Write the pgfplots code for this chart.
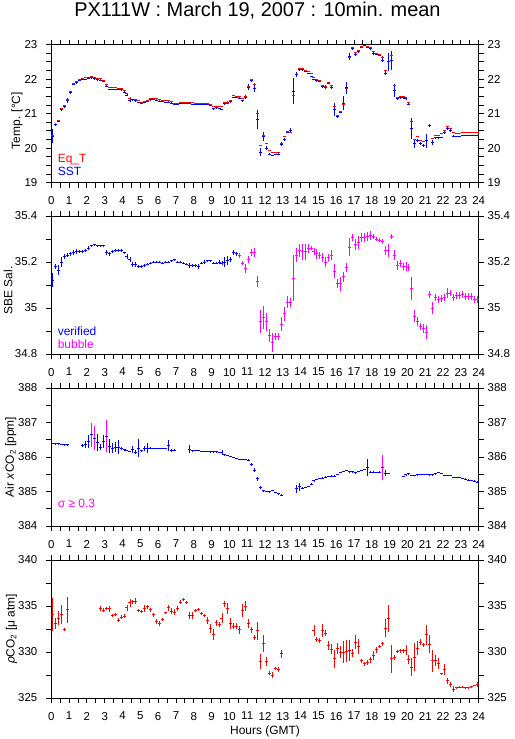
\documentclass[border=0pt]{standalone}
\usepackage{fontspec}
\setmainfont{Liberation Sans}
\usepackage{pgfplots}
\usepackage{pgfplotstable}
\pgfplotsset{compat=1.18}
\definecolor{mag}{RGB}{255,0,255}
\definecolor{pblue}{RGB}{0,0,255}
\definecolor{pred}{RGB}{255,0,0}

\pgfplotstableread{
x sst esst eq eeq
0.083 20.35 0.20 20.36 0.02
0.25 20.68 0.03 20.70 0.02
0.417 20.78 0.03 20.80 0.02
0.583 21.12 0.03 21.15 0.02
0.75 21.20 0.03 21.23 0.02
0.917 21.38 0.08 21.40 0.02
1.083 21.62 0.05 21.64 0.02
1.25 21.85 0.03 21.87 0.02
1.417 21.90 0.03 21.93 0.02
1.583 21.96 0.02 22.00 0.02
1.75 21.99 0.02 22.02 0.01
1.917 22.00 0.02 22.04 0.01
2.083 22.02 0.02 22.06 0.01
2.25 22.04 0.02 22.08 0.01
2.417 22.01 0.02 22.05 0.01
2.583 21.98 0.02 22.03 0.01
2.75 21.97 0.02 22.01 0.01
2.917 21.93 0.02 21.97 0.01
3.083 21.79 0.03 21.85 0.02
3.25 21.71 0.02 21.75 0.01
3.417 21.70 0.01 21.75 0.01
3.583 21.70 0.01 21.75 0.01
3.75 21.70 0.01 21.74 0.01
3.917 21.69 0.01 21.73 0.01
4.083 21.61 0.02 21.66 0.01
4.25 21.53 0.03 21.59 0.02
4.417 21.39 0.04 21.45 0.02
4.583 21.40 0.02 21.41 0.01
4.75 21.37 0.02 21.40 0.01
4.917 21.33 0.02 21.38 0.01
5.083 21.30 0.02 21.34 0.01
5.25 21.32 0.02 21.35 0.01
5.417 21.36 0.02 21.39 0.01
5.583 21.40 0.02 21.43 0.01
5.75 21.41 0.02 21.45 0.01
5.917 21.39 0.02 21.43 0.01
6.083 21.36 0.02 21.40 0.01
6.25 21.35 0.01 21.38 0.01
6.417 21.34 0.01 21.38 0.01
6.583 21.34 0.01 21.37 0.01
6.75 21.31 0.02 21.35 0.01
6.917 21.26 0.02 21.31 0.01
7.083 21.27 0.02 21.31 0.01
7.25 21.29 0.02 21.33 0.01
7.417 21.30 0.01 21.33 0.01
7.583 21.31 0.01 21.34 0.01
7.75 21.29 0.01 21.33 0.01
7.917 21.28 0.01 21.32 0.01
8.083 21.27 0.01 21.31 0.01
8.25 21.26 0.01 21.30 0.01
8.417 21.26 0.01 21.30 0.01
8.583 21.26 0.01 21.30 0.01
8.75 21.26 0.01 21.30 0.01
8.917 21.23 0.02 21.28 0.01
9.083 21.14 0.03 21.21 0.01
9.25 21.17 0.02 21.22 0.01
9.417 21.15 0.02 21.20 0.01
9.583 21.13 0.01 21.20 0.01
9.75 21.29 0.04 21.32 0.02
9.917 21.31 0.04 21.34 0.02
10.083 21.36 0.04 21.39 0.02
10.25 21.47 0.02 21.52 0.01
10.417 21.47 0.02 21.51 0.01
10.583 21.45 0.02 21.50 0.01
10.75 21.38 0.03 21.45 0.01
10.917 21.48 0.05 21.50 0.02
11.083 21.77 0.08 21.80 0.03
11.25 21.96 0.03 21.99 0.02
11.417 21.72 0.10 21.86 0.04
11.583 20.83 0.28 21.00 0.10
11.75 19.89 0.12 20.08 0.02
11.917 20.35 0.13 20.36 0.02
12.083 20.00 0.06 20.13 0.02
12.25 19.83 0.02 19.93 0.01
12.417 19.79 0.02 19.88 0.01
12.583 19.82 0.02 19.89 0.01
12.75 19.83 0.03 19.89 0.01
12.917 20.12 0.06 20.15 0.02
13.083 20.25 0.05 20.33 0.02
13.25 20.47 0.02 20.48 0.01
13.417 20.52 0.06 20.47 0.02
13.583 21.65 0.38 21.52 0.10
13.75 22.13 0.08 22.15 0.03
13.917 22.27 0.03 22.30 0.01
14.083 22.27 0.02 22.32 0.01
14.25 22.22 0.02 22.26 0.01
14.417 22.17 0.02 22.22 0.01
14.583 22.08 0.02 22.17 0.01
14.75 22.00 0.02 22.05 0.01
14.917 21.95 0.02 22.00 0.01
15.083 21.93 0.02 21.97 0.01
15.25 21.78 0.04 21.82 0.02
15.417 21.75 0.04 21.80 0.02
15.583 21.87 0.02 21.90 0.01
15.75 21.77 0.05 21.82 0.02
15.917 21.12 0.20 21.20 0.05
16.083 20.92 0.04 20.94 0.02
16.25 21.05 0.04 21.07 0.02
16.417 21.30 0.20 21.28 0.05
16.583 21.75 0.18 21.74 0.05
16.75 22.67 0.10 22.63 0.03
16.917 22.88 0.04 22.92 0.02
17.083 22.73 0.06 22.77 0.02
17.25 22.80 0.05 22.82 0.02
17.417 22.93 0.03 22.95 0.01
17.583 22.97 0.02 22.98 0.01
17.75 22.93 0.03 22.95 0.01
17.917 22.88 0.02 22.92 0.01
18.083 22.75 0.04 22.80 0.02
18.25 22.72 0.02 22.76 0.01
18.417 22.69 0.02 22.72 0.01
18.583 22.55 0.06 22.64 0.02
18.75 22.17 0.06 22.24 0.02
18.917 22.50 0.25 22.50 0.06
19.083 22.55 0.27 22.70 0.06
19.25 21.67 0.20 21.82 0.05
19.417 21.44 0.03 21.48 0.01
19.583 21.46 0.03 21.50 0.01
19.75 21.46 0.03 21.50 0.01
19.917 21.43 0.04 21.48 0.01
20.083 21.27 0.03 21.32 0.01
20.25 20.57 0.30 20.77 0.10
20.417 20.13 0.13 20.25 0.03
20.583 20.23 0.05 20.33 0.02
20.75 20.14 0.05 20.22 0.02
20.917 20.08 0.04 20.20 0.02
21.083 20.22 0.20 20.23 0.05
21.25 20.65 0.05 20.67 0.02
21.417 20.16 0.08 20.28 0.02
21.583 20.30 0.03 20.38 0.01
21.75 20.30 0.02 20.38 0.01
21.917 20.31 0.02 20.42 0.01
22.083 20.47 0.05 20.50 0.02
22.25 20.57 0.04 20.62 0.01
22.417 20.52 0.04 20.57 0.01
22.583 20.35 0.02 20.46 0.01
22.75 20.34 0.01 20.43 0.01
22.917 20.34 0.01 20.43 0.01
23.083 20.36 0.01 20.45 0.01
23.25 20.36 0.01 20.45 0.01
23.417 20.37 0.01 20.45 0.01
23.583 20.37 0.01 20.45 0.01
23.75 20.37 0.01 20.45 0.01
23.917 20.37 0.01 20.45 0.01
}\tempdata

\pgfplotstableread{
x s e
0.083 35.12 0.03
0.25 35.18 0.01
0.417 35.165 0.02
0.583 35.20 0.02
0.75 35.225 0.01
0.917 35.23 0.01
1.083 35.235 0.01
1.25 35.24 0.01
1.417 35.245 0.01
1.583 35.245 0.005
1.75 35.245 0.005
1.917 35.25 0.005
2.083 35.26 0.01
2.25 35.27 0.005
2.417 35.275 0.005
2.583 35.27 0.005
2.75 35.27 0.005
2.917 35.27 0.005
3.083 35.24 0.01
3.25 35.235 0.01
3.417 35.245 0.005
3.583 35.25 0.005
3.75 35.25 0.005
3.917 35.25 0.005
4.083 35.24 0.005
4.25 35.225 0.01
4.417 35.21 0.01
4.583 35.19 0.01
4.75 35.19 0.01
4.917 35.18 0.005
5.083 35.18 0.005
5.25 35.185 0.005
5.417 35.19 0.005
5.583 35.195 0.005
5.75 35.20 0.005
5.917 35.20 0.005
6.083 35.20 0.005
6.25 35.195 0.005
6.417 35.20 0.005
6.583 35.20 0.005
6.75 35.205 0.005
6.917 35.21 0.005
7.083 35.20 0.005
7.25 35.20 0.005
7.417 35.195 0.005
7.583 35.19 0.005
7.75 35.185 0.01
7.917 35.185 0.005
8.083 35.185 0.005
8.25 35.18 0.01
8.417 35.195 0.005
8.583 35.20 0.01
8.75 35.205 0.005
8.917 35.205 0.005
9.083 35.195 0.005
9.25 35.195 0.005
9.417 35.20 0.01
9.583 35.195 0.01
9.75 35.20 0.02
9.917 35.205 0.02
10.083 35.21 0.01
10.25 35.24 0.01
10.417 35.235 0.01
}\salver

\pgfplotstableread{
x s e
10.583 35.228 0.01
10.75 35.195 0.01
10.917 35.17 0.02
11.083 35.21 0.015
11.25 35.24 0.015
11.417 35.24 0.02
11.583 35.115 0.025
11.75 34.94 0.05
11.917 34.96 0.05
12.083 34.94 0.04
12.25 34.88 0.03
12.417 34.85 0.04
12.583 34.875 0.015
12.75 34.875 0.015
12.917 34.93 0.03
13.083 34.975 0.03
13.25 35.025 0.025
13.417 35.025 0.02
13.583 35.13 0.10
13.75 35.23 0.03
13.917 35.25 0.03
14.083 35.245 0.035
14.25 35.245 0.035
14.417 35.26 0.02
14.583 35.26 0.01
14.75 35.245 0.015
14.917 35.235 0.02
15.083 35.23 0.015
15.25 35.22 0.02
15.417 35.20 0.02
15.583 35.22 0.015
15.75 35.23 0.02
15.917 35.16 0.03
16.083 35.105 0.02
16.25 35.105 0.03
16.417 35.135 0.02
16.583 35.175 0.02
16.75 35.265 0.04
16.917 35.305 0.015
17.083 35.275 0.025
17.25 35.285 0.03
17.417 35.305 0.02
17.583 35.305 0.02
17.75 35.31 0.02
17.917 35.315 0.02
18.083 35.31 0.01
18.25 35.30 0.01
18.417 35.295 0.01
18.583 35.29 0.01
18.75 35.25 0.02
18.917 35.25 0.03
19.083 35.31 0.01
19.25 35.23 0.02
19.417 35.185 0.02
19.583 35.195 0.015
19.75 35.18 0.015
19.917 35.18 0.02
20.083 35.175 0.015
20.25 35.085 0.05
20.417 34.965 0.025
20.583 34.94 0.02
20.75 34.92 0.015
20.917 34.91 0.02
21.083 34.895 0.03
21.25 35.06 0.015
21.417 35.00 0.025
21.583 35.045 0.015
21.75 35.035 0.015
21.917 35.04 0.015
22.083 35.045 0.015
22.25 35.065 0.02
22.417 35.065 0.015
22.583 35.045 0.015
22.75 35.055 0.015
22.917 35.055 0.015
23.083 35.06 0.015
23.25 35.05 0.015
23.417 35.05 0.015
23.583 35.05 0.015
23.75 35.035 0.015
23.917 35.035 0.015
}\salbub

\pgfplotstableread{
x v e
0.083 386.40 0.02
0.25 386.38 0.02
0.417 386.38 0.02
0.583 386.37 0.02
0.75 386.35 0.02
0.917 386.35 0.02
1.75 386.33 0.05
1.917 386.36 0.10
2.083 386.45 0.20
2.583 386.43 0.25
2.75 386.29 0.08
2.917 386.45 0.20
3.25 386.31 0.20
3.417 386.26 0.15
3.583 386.29 0.15
3.75 386.29 0.20
3.917 386.24 0.05
4.083 386.21 0.03
4.25 386.18 0.02
4.417 386.16 0.02
4.583 386.21 0.10
4.75 386.14 0.05
4.917 386.26 0.25
5.083 386.18 0.03
5.25 386.24 0.08
5.417 386.26 0.15
5.583 386.26 0.03
5.75 386.24 0.02
5.917 386.24 0.02
6.083 386.24 0.02
6.25 386.24 0.02
6.417 386.24 0.02
6.583 386.33 0.17
6.75 386.19 0.05
6.917 386.19 0.03
7.75 386.23 0.12
7.917 386.18 0.03
8.083 386.18 0.02
8.25 386.18 0.02
8.417 386.16 0.02
8.583 386.16 0.02
8.75 386.16 0.02
8.917 386.15 0.02
9.083 386.15 0.02
9.25 386.15 0.02
9.417 386.13 0.02
9.583 386.13 0.07
9.75 386.06 0.03
9.917 386.05 0.02
10.083 386.01 0.02
10.25 385.98 0.02
10.417 385.96 0.02
10.583 385.93 0.02
10.75 385.92 0.02
10.917 385.92 0.02
11.083 385.91 0.02
11.25 385.79 0.05
11.417 385.62 0.06
11.583 385.37 0.06
11.75 385.12 0.05
11.917 385.02 0.03
12.083 385.00 0.02
12.25 384.99 0.02
12.417 385.02 0.02
12.583 384.97 0.02
12.75 384.93 0.02
12.917 384.89 0.03
13.75 385.08 0.12
13.917 385.14 0.12
14.083 385.10 0.02
14.25 385.12 0.02
14.417 385.14 0.02
14.583 385.21 0.03
14.75 385.31 0.03
14.917 385.34 0.02
15.083 385.37 0.02
15.25 385.39 0.02
15.417 385.42 0.02
15.583 385.43 0.02
15.75 385.45 0.02
15.917 385.45 0.02
16.083 385.50 0.02
16.25 385.55 0.02
16.417 385.58 0.02
16.583 385.60 0.02
16.75 385.57 0.02
16.917 385.57 0.02
17.083 385.54 0.02
17.25 385.58 0.02
17.417 385.61 0.02
17.583 385.63 0.02
17.75 385.70 0.25
17.917 385.56 0.02
18.083 385.56 0.02
18.25 385.55 0.02
18.417 385.56 0.02
18.75 385.53 0.08
18.917 385.53 0.02
19.75 385.43 0.02
19.917 385.48 0.02
20.083 385.51 0.02
20.25 385.47 0.02
20.417 385.47 0.02
20.583 385.48 0.02
20.75 385.50 0.02
20.917 385.50 0.02
21.083 385.50 0.02
21.25 385.48 0.02
21.417 385.48 0.02
21.583 385.51 0.02
21.75 385.55 0.02
21.917 385.53 0.02
22.083 385.47 0.02
22.25 385.47 0.02
22.417 385.46 0.02
22.583 385.41 0.02
22.75 385.41 0.02
22.917 385.40 0.02
23.083 385.38 0.02
23.25 385.36 0.02
23.417 385.33 0.02
23.583 385.32 0.02
23.75 385.30 0.02
23.917 385.27 0.02
}\airok

\pgfplotstableread{
x v e
2.25 386.64 0.36
2.417 386.55 0.36
3.083 386.61 0.46
18.583 385.70 0.37
}\airbad

\pgfplotstableread{
x p e
0.083 334.07 1.8
0.25 333.05 0.6
0.417 333.70 0.8
0.583 334.07 1.0
0.75 332.43 0.2
0.917 334.60 1.4
2.75 334.72 0.25
2.917 334.54 0.2
3.083 334.72 0.2
3.25 334.68 0.3
3.417 333.96 0.15
3.583 334.07 0.2
3.75 333.48 0.2
3.917 333.78 0.2
4.083 333.88 0.2
4.25 334.80 0.3
4.417 335.34 0.4
4.583 335.45 0.2
4.75 335.52 0.3
4.917 334.50 0.15
5.083 334.43 0.15
5.25 334.72 0.4
5.417 334.90 0.2
5.583 334.60 0.2
5.75 334.03 0.2
5.917 333.34 0.3
6.083 333.08 0.3
6.25 333.52 0.2
6.417 334.25 0.15
6.583 334.80 0.3
6.75 334.43 0.3
6.917 334.32 0.3
7.083 334.72 0.3
7.25 335.41 0.2
7.417 335.70 0.15
7.583 335.34 0.15
7.75 334.00 0.4
7.917 334.00 0.4
8.083 334.50 0.15
8.25 334.60 0.15
8.417 334.17 0.15
8.583 333.96 0.15
8.75 333.45 0.4
8.917 332.54 0.5
9.083 331.95 0.6
9.25 333.16 0.3
9.417 332.97 0.3
9.583 333.70 0.5
9.75 335.23 0.3
9.917 334.70 0.6
10.083 333.10 0.6
10.25 332.80 0.3
10.417 332.80 0.3
10.583 332.40 0.4
10.75 334.50 0.7
10.917 335.00 0.5
11.083 333.10 0.5
11.25 332.40 0.3
11.417 331.60 0.3
11.583 332.30 1.0
11.75 329.00 0.8
11.917 330.90 0.9
12.083 329.00 0.5
12.25 327.70 0.2
12.417 327.50 0.3
12.583 328.20 0.2
12.75 328.10 0.3
12.917 329.80 0.4
14.75 332.32 0.6
14.917 331.34 0.3
15.083 331.23 0.3
15.25 332.32 0.7
15.417 332.06 0.3
15.583 330.68 0.5
15.75 330.32 0.5
15.917 329.26 1.0
16.083 330.43 0.6
16.25 330.00 0.6
16.417 330.00 1.2
16.583 330.06 1.2
16.75 330.17 1.1
16.917 329.88 0.4
17.083 331.08 0.8
17.25 330.57 0.8
17.417 329.04 0.2
17.583 328.71 0.2
17.75 328.86 0.3
17.917 329.15 0.3
18.083 329.59 0.5
18.25 330.24 0.3
18.417 330.61 0.2
18.583 330.90 0.2
18.75 332.61 1.0
18.917 333.63 1.5
19.083 329.26 1.5
19.25 329.41 0.3
19.417 330.06 0.2
19.583 330.13 0.2
19.75 330.13 0.2
19.917 330.21 0.5
20.083 329.15 0.5
20.25 328.35 1.0
20.417 329.44 1.5
20.583 330.43 0.8
20.75 331.08 0.3
20.917 330.79 0.2
21.083 331.88 1.1
21.25 330.86 1.0
21.417 329.04 1.2
21.583 329.04 0.6
21.75 328.79 0.6
21.917 327.62 0.1
22.083 328.13 0.6
22.25 326.86 0.3
22.417 326.49 0.3
22.583 325.95 0.3
22.75 326.13 0.1
22.917 326.17 0.1
23.083 326.17 0.1
23.25 326.13 0.1
23.417 326.13 0.1
23.583 326.24 0.1
23.75 326.35 0.1
23.917 326.49 0.3
}\pco

\pgfplotsset{
  panel/.style={scale only axis, width=427.4bp, height=138bp,
    xmin=0, xmax=24, xtick={0,1,...,24}, minor x tick num=1,
    tick align=outside, major tick length=5bp, minor tick length=5bp,
    axis line style={line width=0.9bp}, tick style={line width=0.9bp, black},
    tick label style={font=\fontsize{11.5}{12}\selectfont},
    yticklabel style={xshift=-5.5bp},
    xticklabel style={yshift=-5.5bp},
    scaled ticks=false, /pgf/number format/assume math mode=true,
    every axis y label/.style={at={(axis description cs:-0.08,0.5)}, rotate=90, anchor=center, font=\fontsize{12}{14}\selectfont},
    every axis x label/.style={at={(axis description cs:0.5,-0.239)}, anchor=center, font=\fontsize{12}{14}\selectfont},
  },
  rightlab/.style={scale only axis, width=427.4bp, height=138bp,
    xmin=0, xmax=24, xtick=\empty, yticklabel pos=right,
    axis line style={draw=none}, tick style={draw=none},
    tick label style={font=\fontsize{11.5}{12}\selectfont},
    yticklabel style={xshift=5.5bp},
    scaled ticks=false, /pgf/number format/assume math mode=true},
  hbar/.style={only marks, mark=-, mark size=1.5bp, mark options={line width=0.9bp, solid}},
  vbar/.style={quiver={u=0, v=2*\thisrow{#1}}, line width=0.9bp, -},
}

\begin{document}
\begin{tikzpicture}
\useasboundingbox (0,0) rectangle (515bp,739bp);
\node[anchor=base, font=\fontsize{20}{24}\selectfont] at (257.5bp,722bp) {PX111W : March 19, 2007 : 10min. mean};

% Panel 1
\begin{axis}[panel, at={(51.3bp,556.3bp)}, anchor=south west,
  ymin=19, ymax=23, ytick={19,20,21,22,23}, minor y tick num=3,
  ylabel={Temp. [°C]}, ylabel style={at={(axis description cs:-0.080,0.45)}}]
\addplot[pred, hbar] table[x=x, y=eq]{\tempdata};
\addplot[pred, vbar=eeq] table[x=x, y expr=\thisrow{eq}-\thisrow{eeq}]{\tempdata};
\addplot[pblue, hbar] table[x=x, y=sst]{\tempdata};
\addplot[pblue, vbar=esst] table[x=x, y expr=\thisrow{sst}-\thisrow{esst}]{\tempdata};
\node[anchor=base west, pred, font=\fontsize{12}{14}\selectfont] at (rel axis cs:0.007,0.148) {Eq\_T};
\node[anchor=base west, pblue, font=\fontsize{12}{14}\selectfont] at (rel axis cs:0.007,0.049) {SST};
\end{axis}
\begin{axis}[rightlab, at={(51.3bp,556.3bp)}, anchor=south west,
  ymin=19, ymax=23, ytick={19,20,21,22,23}]
\end{axis}

% Panel 2
\begin{axis}[panel, at={(51.3bp,385bp)}, anchor=south west,
  ymin=34.8, ymax=35.4, ytick={34.8,35,35.2,35.4}, minor y tick num=1,
  ylabel={SBE Sal.}, ylabel style={at={(axis description cs:-0.101,0.46)}}]
\addplot[pblue, hbar] table[x=x, y=s]{\salver};
\addplot[pblue, vbar=e] table[x=x, y expr=\thisrow{s}-\thisrow{e}]{\salver};
\addplot[mag, hbar] table[x=x, y=s]{\salbub};
\addplot[mag, vbar=e] table[x=x, y expr=\thisrow{s}-\thisrow{e}]{\salbub};
\node[anchor=base west, pblue, font=\fontsize{12}{14}\selectfont] at (rel axis cs:0.007,0.133) {verified};
\node[anchor=base west, mag, font=\fontsize{12}{14}\selectfont] at (rel axis cs:0.007,0.039) {bubble};
\end{axis}
\begin{axis}[rightlab, at={(51.3bp,385bp)}, anchor=south west,
  ymin=34.8, ymax=35.4, ytick={34.8,35,35.2,35.4}]
\end{axis}

% Panel 3
\begin{axis}[panel, at={(51.3bp,213bp)}, anchor=south west,
  ymin=384, ymax=388, ytick={384,385,386,387,388}, minor y tick num=1,
  ylabel={Air \textit{x}CO\textsubscript{2} [ppm]}, ylabel style={at={(axis description cs:-0.095,0.5)}}]
\addplot[pblue, hbar] table[x=x, y=v]{\airok};
\addplot[pblue, vbar=e] table[x=x, y expr=\thisrow{v}-\thisrow{e}]{\airok};
\addplot[pblue, hbar] table[x=x, y=v]{\airbad};
\addplot[mag, vbar=e] table[x=x, y expr=\thisrow{v}-\thisrow{e}]{\airbad};
\node[anchor=base west, mag, font=\fontsize{12}{14}\selectfont] at (rel axis cs:0.007,0.131) {σ ≥ 0.3};
\end{axis}
\begin{axis}[rightlab, at={(51.3bp,213bp)}, anchor=south west,
  ymin=384, ymax=388, ytick={384,385,386,387,388}]
\end{axis}

% Panel 4
\begin{axis}[panel, at={(51.3bp,41bp)}, anchor=south west,
  ymin=325, ymax=340, ytick={325,330,335,340}, minor y tick num=1,
  ylabel={\textit{ρ}CO\textsubscript{2} [μ atm]}, ylabel style={at={(axis description cs:-0.093,0.5)}}, xlabel={Hours (GMT)}]
\addplot[pred, hbar] table[x=x, y=p]{\pco};
\addplot[pred, vbar=e] table[x=x, y expr=\thisrow{p}-\thisrow{e}]{\pco};
\end{axis}
\begin{axis}[rightlab, at={(51.3bp,41bp)}, anchor=south west,
  ymin=325, ymax=340, ytick={325,330,335,340}]
\end{axis}
\end{tikzpicture}
\end{document}
